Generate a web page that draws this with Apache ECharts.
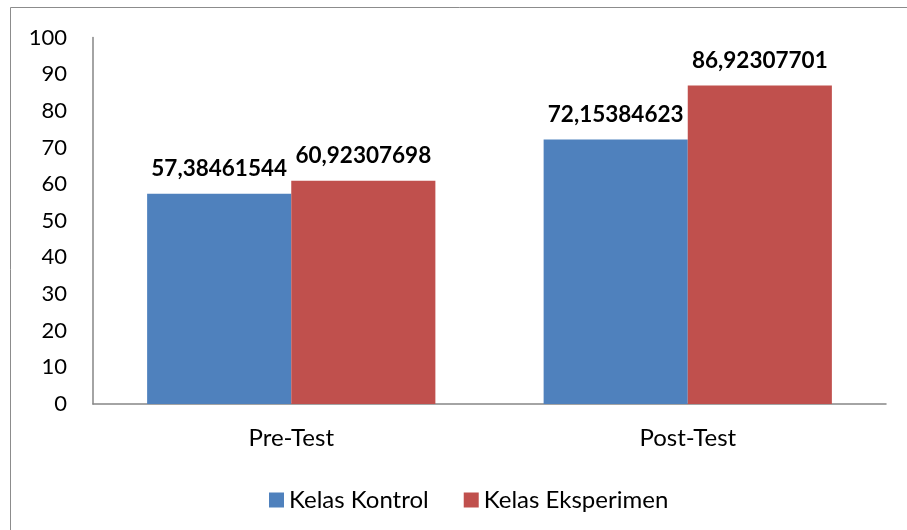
<!DOCTYPE html>
<html>
<head>
<meta charset="utf-8">
<script src="https://cdn.jsdelivr.net/npm/echarts@6/dist/echarts.min.js"></script>
<style>
html,body{margin:0;padding:0;background:#fff;}
#chart{width:907px;height:530px;}
</style>
</head>
<body>
<div id="chart"></div>
<script>
const categories = ['Pre-Test', 'Post-Test'];
const kelasKontrol = [57.38461544, 72.15384623];
const kelasEksperimen = [60.92307698, 86.92307701];
const yTicks = [0, 10, 20, 30, 40, 50, 60, 70, 80, 90, 100];

const FONT = 'Lato';
const chart = echarts.init(document.getElementById('chart'), null, {renderer: 'canvas'});

const labelCfg = {
  show: true,
  position: 'top',
  distance: 13,
  fontFamily: FONT,
  fontWeight: 'bold',
  fontSize: 22.5,
  color: '#000',
  formatter: p => String(p.value).replace('.', ',')
};

chart.setOption({
  animation: false,
  backgroundColor: '#fff',
  graphic: [{
    type: 'rect',
    shape: {x: 10.5, y: 7.5, width: 1000, height: 1000},
    style: {fill: 'none', stroke: '#8c8c8c', lineWidth: 1},
    silent: true,
    z: -10
  }],
  grid: {left: 93, right: 21, top: 37.5, bottom: 126, containLabel: false},
  legend: {
    data: ['Kelas Kontrol', 'Kelas Eksperimen'],
    left: 264,
    top: 483,
    itemWidth: 15,
    itemHeight: 15,
    itemGap: 35,
    icon: 'rect',
    textStyle: {fontFamily: FONT, fontSize: 24, color: '#000'}
  },
  xAxis: {
    type: 'category',
    data: categories,
    axisLine: {show: true, lineStyle: {color: '#868686', width: 1.5}},
    axisTick: {show: false},
    axisLabel: {fontFamily: FONT, fontSize: 24, color: '#000', margin: 22}
  },
  yAxis: {
    type: 'value',
    min: yTicks[0],
    max: yTicks[yTicks.length - 1],
    interval: yTicks[1] - yTicks[0],
    axisLine: {show: true, lineStyle: {color: '#868686', width: 1.5}},
    axisTick: {show: false},
    splitLine: {show: false},
    axisLabel: {fontFamily: FONT, fontSize: 22, color: '#000', margin: 26}
  },
  series: [
    {
      name: 'Kelas Kontrol',
      type: 'bar',
      data: kelasKontrol,
      itemStyle: {color: '#4F81BD'},
      barGap: '0%',
      barCategoryGap: '27.3%',
      label: labelCfg
    },
    {
      name: 'Kelas Eksperimen',
      type: 'bar',
      data: kelasEksperimen,
      itemStyle: {color: '#C0504D'},
      barGap: '0%',
      barCategoryGap: '27.3%',
      label: labelCfg
    }
  ]
});
</script>
</body>
</html>
